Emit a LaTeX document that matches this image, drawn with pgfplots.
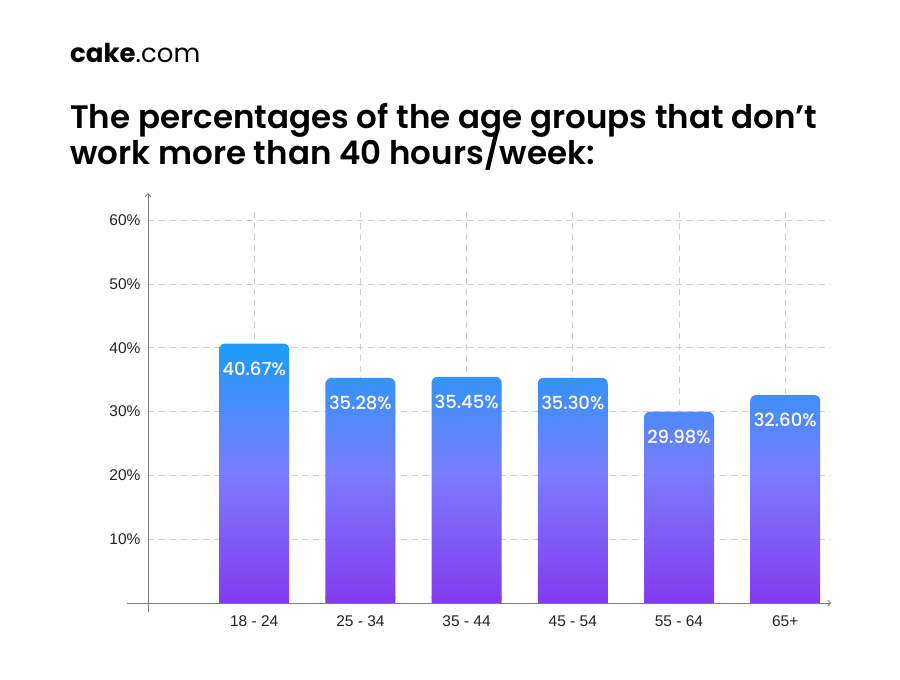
\documentclass[border=0pt]{standalone}
\usepackage{fontspec}
\setmainfont{Liberation Sans}
\newfontfamily\pop{Poppins}
\newfontfamily\popsb{Poppins SemiBold}
\newfontfamily\popm{Poppins Medium}
\usepackage{pgfplots}
\pgfplotsset{compat=1.18}
\usetikzlibrary{arrows.meta}
\definecolor{bartop}{RGB}{28,155,245}
\definecolor{barmid}{RGB}{122,124,253}
\definecolor{barbot}{RGB}{132,58,238}
\definecolor{gridc}{RGB}{205,205,205}
\definecolor{axisc}{RGB}{125,125,125}
\definecolor{labelc}{RGB}{35,35,35}
\begin{document}
\begin{tikzpicture}
\fill[white] (0,0) rectangle (900pt,680pt);
\node[anchor=base west, inner sep=0] at (70pt,617pt) {\fontsize{26}{30}\selectfont\pop\textbf{cake}.com};
\node[anchor=base west, inner sep=0] at (70pt,551pt) {\fontsize{32.5}{36}\selectfont\popsb The percentages of the age groups that don’t};
\node[anchor=base west, inner sep=0] at (70pt,515pt) {\fontsize{32.5}{36}\selectfont\popsb work more than 40 hours/week:};
\begin{axis}[
  at={(148pt,77pt)}, anchor=south west,
  x=106.2pt, y=6.38pt,
  xmin=-1, xmax=5.433, ymin=0, ymax=64.26,
  clip=false,
  axis x line=bottom, axis y line=left,
  axis line style={axisc, line width=0.9pt},
  x axis line style={-{Straight Barb[length=3pt,width=6pt]}, shorten <=-21pt},
  y axis line style={-{Straight Barb[length=3pt,width=6pt]}, shorten <=-9pt},
  major tick length=0pt,
  tick style={draw=none},
  xtick={0,...,5},
  xticklabels={18 - 24, 25 - 34, 35 - 44, 45 - 54, 55 - 64, 65+},
  ytick={10,20,...,60},
  yticklabel={\pgfmathprintnumber{\tick}\%},
  /pgf/number format/assume math mode=true,
  tick label style={font=\fontsize{15.5}{18}\selectfont, text=labelc},
  xticklabel style={yshift=-9pt},
  yticklabel style={xshift=-4pt},
  ymajorgrids,
  grid style={gridc, dash pattern=on 6pt off 5pt, line width=0.8pt},
]
\pgfplotsinvokeforeach{0,...,5}{\draw[gridc, dash pattern=on 6pt off 5pt, line width=0.8pt] (axis cs:#1,0) -- (axis cs:#1,61.6);}
\addplot[ybar, bar width=70pt, bar shift=0pt, draw=none,
  top color=bartop, bottom color=barbot, middle color=barmid,
  rounded corners=6pt,
  point meta=y,
  nodes near coords={\pgfmathprintnumber[fixed, fixed zerofill, precision=2]{\pgfplotspointmeta}\%},
  every node near coord/.append style={anchor=north, inner sep=0pt, yshift=-18pt, text=white, font=\popm\fontsize{18}{21}\selectfont},
] coordinates {(0,40.67) (1,35.28) (2,35.45) (3,35.30) (4,29.98) (5,32.60)};
\addplot[ybar, bar width=70pt, bar shift=0pt, draw=none, fill=barbot]
  coordinates {(0,1) (1,1) (2,1) (3,1) (4,1) (5,1)};
\end{axis}
\end{tikzpicture}
\end{document}
